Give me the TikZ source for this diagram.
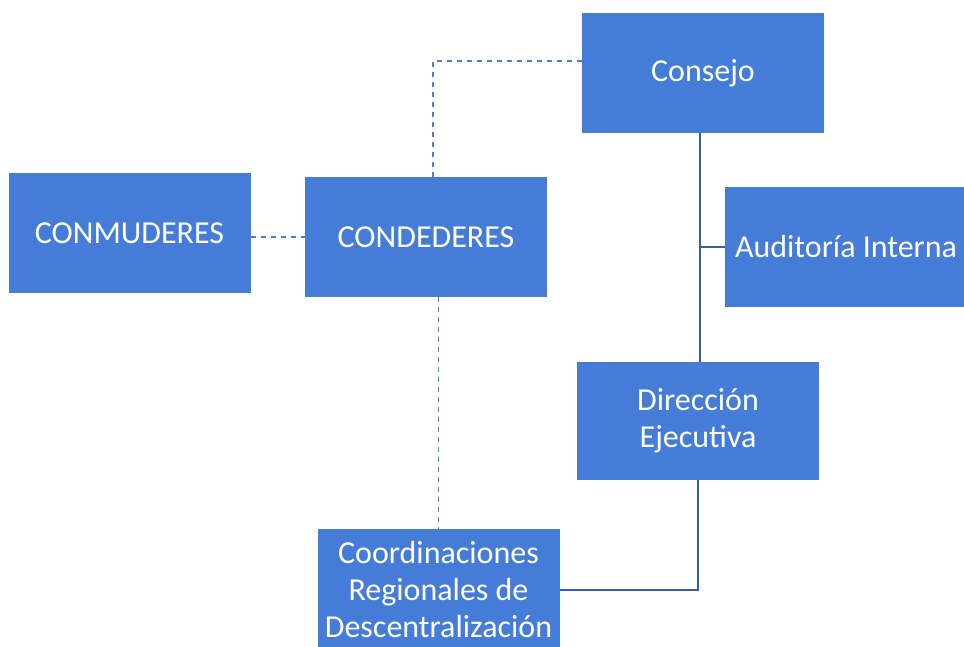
\documentclass[tikz,border=0pt]{standalone}
\usepackage{fontspec}
\setmainfont{Carlito}
\usetikzlibrary{calc}
\definecolor{boxblue}{RGB}{68,124,216}
\definecolor{linesolid}{RGB}{52,92,178}
\definecolor{linedash}{RGB}{80,125,210}
\begin{document}
\begin{tikzpicture}[x=1pt,y=-1pt,
  orgbox/.style={rectangle, fill=boxblue, text=white, minimum width=242pt, minimum height=120pt,
    inner sep=0pt, align=center, font=\fontsize{32}{37}\selectfont},
  solidlink/.style={draw=linesolid, line width=1.8pt},
  dashlink/.style={draw=linedash, line width=1.4pt, dash pattern=on 5pt off 5pt}]
\clip (0,0) rectangle (964,646);
\fill[white] (0,0) rectangle (964,646);
\node[orgbox] (consejo) at (703,73) {Consejo};
\node[orgbox] (conmu) at (129.5,233) {CONMUDERES};
\node[orgbox] (conde) at (426,237) {CONDEDERES};
\node[orgbox] (audit) at (846,247) {Auditoría Interna};
\node[orgbox, minimum height=118pt] (direc) at (698,421) {Dirección\\Ejecutiva};
\node[orgbox] (coord) at (438.5,589) {Coordinaciones\\Regionales de\\Descentralización};
% solid links
\coordinate (vtop) at ($(consejo.south)+(-3,0)$);
\draw[solidlink] (vtop) -- (vtop |- direc.north);
\draw[solidlink] (audit.west) -- (audit.west -| vtop);
\draw[solidlink] (direc.south) |- ($(coord.east)+(0,1)$);
% dashed links
\draw[dashlink] (conde.west -| conmu.east) -- (conde.west);
\coordinate (dtop) at ($(conde.north)+(7,0)$);
\draw[dashlink] (dtop) |- ($(consejo.west)+(0,-12)$);
\draw[dashlink] (coord.north |- conde.south) -- (coord.north);
\end{tikzpicture}
\end{document}
